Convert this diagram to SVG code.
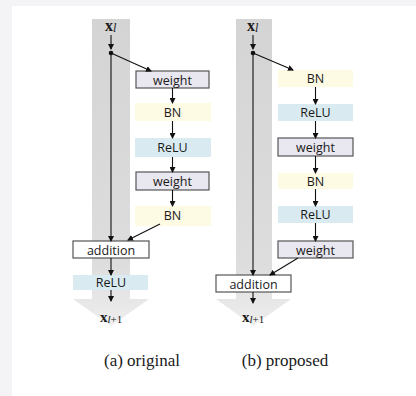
<svg xmlns="http://www.w3.org/2000/svg" width="416" height="396" viewBox="0 0 416 396">
<style>
.lbl{font-family:"Open Sans","Liberation Sans",sans-serif;font-size:12.5px;fill:#1a1a1a;text-anchor:middle}
.ser{font-family:"Liberation Serif",serif;fill:#1a1a1a}
.cap{font-family:"Liberation Serif",serif;font-size:17px;fill:#1a1a1a;text-anchor:middle}
.wt{fill:#e9e7ef;stroke:#555;stroke-width:1.2}
.add{fill:#fff;stroke:#555;stroke-width:1.2}
.bn{fill:#fdfbe4}
.relu{fill:#d9eaf1}
.ln{stroke:#111;stroke-width:1.1;fill:none}
.col{fill:url(#g)}
</style>
<defs>
<linearGradient id="g" x1="0" y1="0" x2="0" y2="1">
<stop offset="0" stop-color="#d4d4d4"/>
<stop offset="0.8" stop-color="#dddddd"/>
<stop offset="1" stop-color="#eeeeee"/>
</linearGradient>
<marker id="ah" markerWidth="6" markerHeight="6" refX="5" refY="3" orient="auto" markerUnits="userSpaceOnUse">
<path d="M0,0 L6,3 L0,6 Z" fill="#111"/>
</marker>
</defs>
<rect x="0" y="0" width="416" height="396" fill="#f4f4f6"/>
<rect x="12" y="6" width="404" height="390" fill="#ffffff"/>

<!-- left diagram -->
<g id="left-column">
<path class="col" d="M92,19 H130 V299 H149 L111,326 L73,299 H92 Z"/>
</g>
<g id="left-xl"><text class="ser" x="105" y="31" font-size="16" font-weight="bold">x<tspan font-style="italic" font-weight="normal" font-size="12" dy="1">l</tspan></text></g>
<g id="left-weight1"><rect class="wt" x="136" y="71" width="73" height="17"/><text class="lbl" x="172.5" y="84.5">weight</text></g>
<g id="left-bn1"><rect class="bn" x="135" y="103" width="76" height="18"/><text class="lbl" x="172.5" y="116.5">BN</text></g>
<g id="left-relu"><rect class="relu" x="135" y="138" width="76" height="19"/><text class="lbl" x="172.5" y="152">ReLU</text></g>
<g id="left-weight2"><rect class="wt" x="136" y="172" width="73" height="18"/><text class="lbl" x="172.5" y="185.5">weight</text></g>
<g id="left-bn2"><rect class="bn" x="135" y="206" width="76" height="20"/><text class="lbl" x="172.5" y="220">BN</text></g>
<g id="left-addition"><rect class="add" x="73" y="241" width="76" height="17"/><text class="lbl" x="111" y="254.5">addition</text></g>
<g id="left-relu2"><rect class="relu" x="73" y="275" width="75" height="15"/><text class="lbl" x="111" y="287">ReLU</text></g>
<g id="left-xl1"><text class="ser" x="100" y="322" font-size="15" font-weight="bold">x<tspan font-style="italic" font-weight="normal" font-size="11" dy="1">l</tspan><tspan font-weight="normal" font-size="11">+1</tspan></text></g>
<g id="left-caption"><text class="cap" x="142" y="366">(a) original</text></g>

<!-- right diagram -->
<g id="right-column">
<path class="col" d="M236,19 H272 V299 H291 L253,326 L216,299 H236 Z"/>
</g>
<g id="right-xl"><text class="ser" x="247" y="31" font-size="16" font-weight="bold">x<tspan font-style="italic" font-weight="normal" font-size="12" dy="1">l</tspan></text></g>
<g id="right-bn1"><rect class="bn" x="278" y="70" width="75" height="17"/><text class="lbl" x="315.5" y="83">BN</text></g>
<g id="right-relu1"><rect class="relu" x="278" y="104" width="75" height="17"/><text class="lbl" x="315.5" y="117">ReLU</text></g>
<g id="right-weight1"><rect class="wt" x="278" y="138" width="75" height="18"/><text class="lbl" x="315.5" y="151.5">weight</text></g>
<g id="right-bn2"><rect class="bn" x="278" y="173" width="75" height="16"/><text class="lbl" x="315.5" y="185.5">BN</text></g>
<g id="right-relu2"><rect class="relu" x="278" y="206" width="75" height="17"/><text class="lbl" x="315.5" y="219">ReLU</text></g>
<g id="right-weight2"><rect class="wt" x="278" y="241" width="75" height="17"/><text class="lbl" x="315.5" y="254.5">weight</text></g>
<g id="right-addition"><rect class="add" x="216" y="275" width="75" height="17"/><text class="lbl" x="253.5" y="288.5">addition</text></g>
<g id="right-xl1"><text class="ser" x="242" y="322" font-size="15" font-weight="bold">x<tspan font-style="italic" font-weight="normal" font-size="11" dy="1">l</tspan><tspan font-weight="normal" font-size="11">+1</tspan></text></g>
<g id="right-caption"><text class="cap" x="285" y="366">(b) proposed</text></g>

<g id="connectors">
<!-- left -->
<line class="ln" x1="111" y1="35" x2="111" y2="49" marker-end="url(#ah)"/>
<line class="ln" x1="111" y1="53" x2="111" y2="241" marker-end="url(#ah)"/>
<circle cx="111" cy="53" r="2.3" fill="#111"/>
<line class="ln" x1="111" y1="53" x2="151" y2="71" marker-end="url(#ah)"/>
<line class="ln" x1="172.5" y1="88" x2="172.5" y2="103" marker-end="url(#ah)"/>
<line class="ln" x1="172.5" y1="121" x2="172.5" y2="138" marker-end="url(#ah)"/>
<line class="ln" x1="172.5" y1="157" x2="172.5" y2="172" marker-end="url(#ah)"/>
<line class="ln" x1="172.5" y1="190" x2="172.5" y2="206" marker-end="url(#ah)"/>
<line class="ln" x1="160" y1="224" x2="128" y2="240" marker-end="url(#ah)"/>
<line class="ln" x1="111" y1="258" x2="111" y2="275" marker-end="url(#ah)"/>
<line class="ln" x1="111" y1="290" x2="111" y2="301" marker-end="url(#ah)"/>
<!-- right -->
<line class="ln" x1="253" y1="35" x2="253" y2="49" marker-end="url(#ah)"/>
<line class="ln" x1="253" y1="53" x2="253" y2="275" marker-end="url(#ah)"/>
<circle cx="253" cy="53" r="2.3" fill="#111"/>
<line class="ln" x1="253" y1="53" x2="293" y2="70" marker-end="url(#ah)"/>
<line class="ln" x1="315.5" y1="87" x2="315.5" y2="104" marker-end="url(#ah)"/>
<line class="ln" x1="315.5" y1="121" x2="315.5" y2="138" marker-end="url(#ah)"/>
<line class="ln" x1="315.5" y1="156" x2="315.5" y2="173" marker-end="url(#ah)"/>
<line class="ln" x1="315.5" y1="189" x2="315.5" y2="206" marker-end="url(#ah)"/>
<line class="ln" x1="315.5" y1="223" x2="315.5" y2="241" marker-end="url(#ah)"/>
<line class="ln" x1="298" y1="258" x2="270" y2="275" marker-end="url(#ah)"/>
<line class="ln" x1="253" y1="292" x2="253" y2="303" marker-end="url(#ah)"/>
</g>
</svg>
